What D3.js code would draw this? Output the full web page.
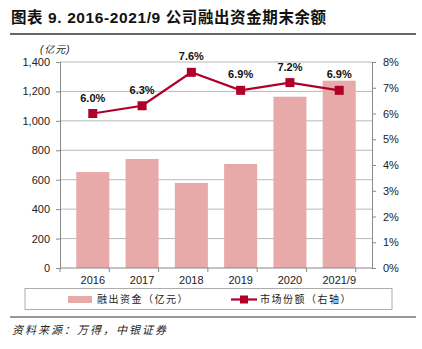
<!DOCTYPE html>
<html>
<head>
<meta charset="utf-8">
<script src="https://cdn.jsdelivr.net/npm/d3@7"></script>
<style>
  body { margin: 0; background: #fff; }
  svg { display: block; font-family: "Liberation Sans", Arial, sans-serif; }
</style>
</head>
<body>
<svg id="chart" width="422" height="349"></svg>
<script>
var years = ["2016", "2017", "2018", "2019", "2020", "2021/9"];
var balance = [652, 741, 578, 707, 1164, 1273];
var share = [6.0, 6.3, 7.6, 6.9, 7.2, 6.9];
var leftTicks = [0, 200, 400, 600, 800, 1000, 1200, 1400];
var rightTicks = [0, 1, 2, 3, 4, 5, 6, 7, 8];

var svg = d3.select("#chart");
var plotLeft = 60, plotRight = 372, plotTop = 62, plotBottom = 268;
var cjk = "'Liberation Sans', 'Noto Sans CJK SC', sans-serif";

svg.append("text")
  .attr("x", 11).attr("y", 23)
  .style("font-family", cjk)
  .style("font-size", "15.5px")
  .style("font-weight", "bold")
  .style("letter-spacing", "0.6px")
  .attr("fill", "#111")
  .text("图表 9. 2016-2021/9 公司融出资金期末余额");

svg.append("line")
  .attr("x1", 10).attr("x2", 416).attr("y1", 34).attr("y2", 34)
  .attr("stroke", "#333").attr("stroke-width", 1.5);

var x = d3.scaleBand().domain(years).range([plotLeft, plotRight]).padding(0.33);
var y = d3.scaleLinear().domain([0, 1400]).range([plotBottom, plotTop]);
var y2 = d3.scaleLinear().domain([0, 8]).range([plotBottom, plotTop]);

// grid
svg.append("g").selectAll("line")
  .data(leftTicks.slice(1))
  .enter().append("line")
  .attr("x1", plotLeft).attr("x2", plotRight)
  .attr("y1", d => y(d)).attr("y2", d => y(d))
  .attr("stroke", "#a6a6a6").attr("stroke-width", 0.8);

// bars
svg.append("g").selectAll("rect")
  .data(balance)
  .enter().append("rect")
  .attr("x", (d, i) => x(years[i]))
  .attr("y", d => y(d))
  .attr("width", x.bandwidth())
  .attr("height", d => plotBottom - y(d))
  .attr("fill", "#e8a9a9");

// left axis
var leftAxis = svg.append("g")
  .attr("transform", "translate(" + plotLeft + ",0)")
  .call(d3.axisLeft(y).tickValues(leftTicks).tickFormat(d3.format(",")).tickSize(4).tickPadding(6));
leftAxis.select(".domain").attr("stroke", "#888");
leftAxis.selectAll(".tick line").attr("stroke", "#888");
leftAxis.selectAll("text").style("font-size", "11px").attr("fill", "#222");

// right axis
var rightAxis = svg.append("g")
  .attr("transform", "translate(" + plotRight + ",0)")
  .call(d3.axisRight(y2).tickValues(rightTicks).tickFormat(d => d + "%").tickSize(4).tickPadding(7));
rightAxis.select(".domain").attr("stroke", "#888");
rightAxis.selectAll(".tick line").attr("stroke", "#888");
rightAxis.selectAll("text").style("font-size", "11px").attr("fill", "#222");

// bottom axis
var step = x.step();
svg.append("line")
  .attr("x1", plotLeft).attr("x2", plotRight).attr("y1", plotBottom).attr("y2", plotBottom)
  .attr("stroke", "#888");
svg.append("g").selectAll("line")
  .data(d3.range(years.length + 1))
  .enter().append("line")
  .attr("x1", d => plotLeft + d * step).attr("x2", d => plotLeft + d * step)
  .attr("y1", plotBottom).attr("y2", plotBottom + 4)
  .attr("stroke", "#888");
svg.append("g").selectAll("text")
  .data(years)
  .enter().append("text")
  .attr("x", d => x(d) + x.bandwidth() / 2)
  .attr("y", plotBottom + 16)
  .attr("text-anchor", "middle")
  .style("font-size", "11px")
  .attr("fill", "#222")
  .text(d => d);

// unit label
svg.append("text")
  .attr("x", 40).attr("y", 53)
  .style("font-family", cjk)
  .style("font-size", "10px")
  .style("font-style", "italic")
  .style("letter-spacing", "1px")
  .attr("fill", "#222")
  .text("(亿元)");

// line
var cx = d => x(d) + x.bandwidth() / 2;
var line = d3.line()
  .x((d, i) => cx(years[i]))
  .y(d => y2(d));
svg.append("path")
  .datum(share)
  .attr("d", line)
  .attr("fill", "none")
  .attr("stroke", "#b0002a")
  .attr("stroke-width", 2.2);
svg.append("g").selectAll("rect")
  .data(share)
  .enter().append("rect")
  .attr("x", (d, i) => cx(years[i]) - 4.5)
  .attr("y", d => y2(d) - 4.5)
  .attr("width", 9).attr("height", 9)
  .attr("fill", "#b0002a");
svg.append("g").selectAll("text")
  .data(share)
  .enter().append("text")
  .attr("x", (d, i) => cx(years[i]))
  .attr("y", d => y2(d) - 12)
  .attr("text-anchor", "middle")
  .style("font-size", "11px")
  .style("font-weight", "bold")
  .attr("fill", "#111")
  .text(d => d.toFixed(1) + "%");

// legend
svg.append("rect")
  .attr("x", 25).attr("y", 288.5).attr("width", 367).attr("height", 21)
  .attr("fill", "#fff").attr("stroke", "#999").attr("stroke-width", 0.8);
svg.append("rect")
  .attr("x", 68).attr("y", 296).attr("width", 24).attr("height", 7)
  .attr("fill", "#e8a9a9");
svg.append("text")
  .attr("x", 97).attr("y", 303)
  .style("font-family", cjk).style("font-size", "10px")
  .style("letter-spacing", "1.5px")
  .attr("fill", "#222")
  .text("融出资金（亿元）");
svg.append("line")
  .attr("x1", 231).attr("x2", 257).attr("y1", 299.5).attr("y2", 299.5)
  .attr("stroke", "#b0002a").attr("stroke-width", 2.2);
svg.append("rect")
  .attr("x", 240).attr("y", 295.5).attr("width", 8).attr("height", 8)
  .attr("fill", "#b0002a");
svg.append("text")
  .attr("x", 260).attr("y", 303)
  .style("font-family", cjk).style("font-size", "10px")
  .style("letter-spacing", "1.5px")
  .attr("fill", "#222")
  .text("市场份额（右轴）");

// footer
svg.append("line")
  .attr("x1", 10).attr("x2", 416).attr("y1", 317).attr("y2", 317)
  .attr("stroke", "#333").attr("stroke-width", 1.2);
svg.append("text")
  .attr("x", 12).attr("y", 334)
  .style("font-family", cjk).style("font-size", "11px")
  .style("font-style", "italic")
  .style("letter-spacing", "2px")
  .attr("fill", "#222")
  .text("资料来源：万得，中银证券");
</script>
</body>
</html>
